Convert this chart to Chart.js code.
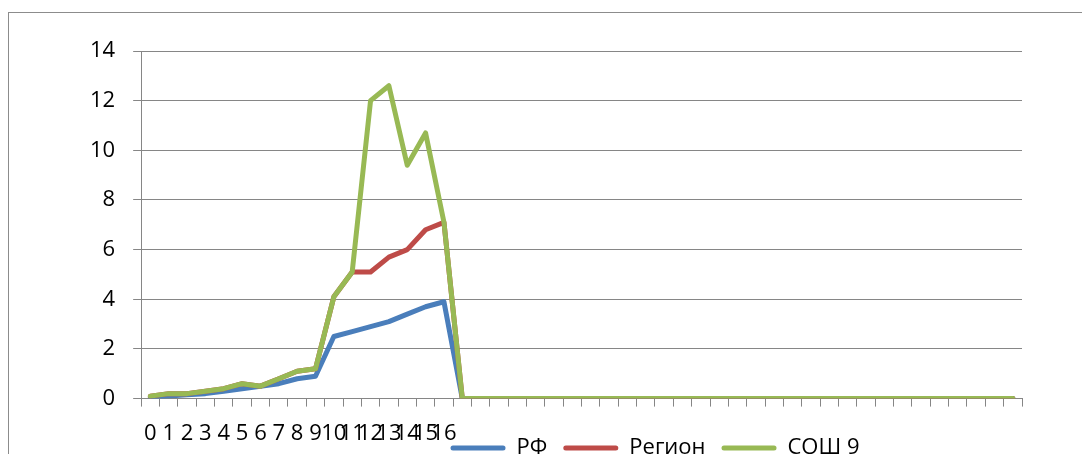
<!DOCTYPE html>
<html><head><meta charset="utf-8">
<script src="https://cdn.jsdelivr.net/npm/chart.js@4"></script>
<style>html,body{margin:0;padding:0;overflow:hidden;background:#fff}#wrap{width:1316px;height:511px}</style>
</head><body><div id="wrap"><canvas id="c" width="1316" height="511"></canvas></div>
<script>
const categories = ["0","1","2","3","4","5","6","7","8","9","10","11","12","13","14","15","16",
  "","","","","","","","","","","","","","","","","","","","","","","","","","","","","","",""];
const seriesNames = ["РФ", "Регион", "СОШ 9"];
const rf = [0.05,0.1,0.15,0.2,0.3,0.4,0.5,0.6,0.8,0.9,2.5,2.7,2.9,3.1,3.4,3.7,3.9,
  0,0,0,0,0,0,0,0,0,0,0,0,0,0,0,0,0,0,0,0,0,0,0,0,0,0,0,0,0,0,0];
const region = [0.1,0.2,0.2,0.3,0.4,0.6,0.5,0.8,1.1,1.2,4.1,5.1,5.1,5.7,6.0,6.8,7.1,
  0,0,0,0,0,0,0,0,0,0,0,0,0,0,0,0,0,0,0,0,0,0,0,0,0,0,0,0,0,0,0];
const sosh9 = [0.1,0.2,0.2,0.3,0.4,0.6,0.5,0.8,1.1,1.2,4.1,5.1,12.0,12.6,9.4,10.7,7.1,
  0,0,0,0,0,0,0,0,0,0,0,0,0,0,0,0,0,0,0,0,0,0,0,0,0,0,0,0,0,0,0];
const yMin = 0, yMax = 14, yStep = 2;
const colors = ["#4a7ebb", "#be4b48", "#98b954"];

const FONT = {family: "'Open Sans', 'DejaVu Sans', sans-serif", size: 22};
const GRID = "#868686";

const borderPlugin = {
  id: 'outerBorder',
  beforeDraw(chart) {
    const ctx = chart.ctx;
    ctx.save();
    ctx.strokeStyle = "#8c8c8c";
    ctx.lineWidth = 1;
    ctx.strokeRect(8.5, 12.5, 1298, 600);
    ctx.restore();
  }
};
const legendShift = {
  id: 'legendShift',
  afterLayout(chart) {
    const L = chart.legend;
    if (L) { L.top -= 40; L.bottom -= 40; L.left += 108; L.right += 108; }
  }
};

new Chart(document.getElementById('c'), {
  type: 'line',
  data: {
    labels: categories,
    datasets: [rf, region, sosh9].map((d, i) => ({
      label: seriesNames[i],
      data: d,
      borderColor: colors[i],
      backgroundColor: colors[i],
      borderWidth: 5,
      borderJoinStyle: 'round',
      borderCapStyle: 'round',
      pointRadius: 0,
      tension: 0,
      order: 2 - i
    }))
  },
  options: {
    responsive: false,
    animation: false,
    layout: {padding: {left: 72, right: 294, top: 51, bottom: 2}},
    plugins: {
      tooltip: {enabled: false},
      legend: {
        position: 'bottom',
        labels: {
          font: FONT,
          color: '#000',
          boxWidth: 55,
          boxHeight: 5,
          padding: 16,
          useBorderRadius: true,
          borderRadius: 2.5,
          sort: (a, b) => a.datasetIndex - b.datasetIndex,
          generateLabels(chart) {
            const items = Chart.defaults.plugins.legend.labels.generateLabels(chart);
            items.forEach(it => { it.lineWidth = 0; });
            return items;
          }
        }
      }
    },
    scales: {
      x: {
        type: 'category',
        offset: true,
        grid: {offset: true, drawOnChartArea: false, color: GRID, tickLength: 8, lineWidth: 1},
        border: {color: GRID, width: 1},
        ticks: {autoSkip: false, maxRotation: 0, minRotation: 0, font: FONT, color: '#000', padding: 14}
      },
      y: {
        min: yMin, max: yMax,
        grid: {color: GRID, tickLength: 8, lineWidth: 1},
        border: {color: GRID, width: 1},
        ticks: {stepSize: yStep, font: FONT, color: '#000', padding: 18}
      }
    }
  },
  plugins: [borderPlugin, legendShift]
});
</script>
</body></html>
